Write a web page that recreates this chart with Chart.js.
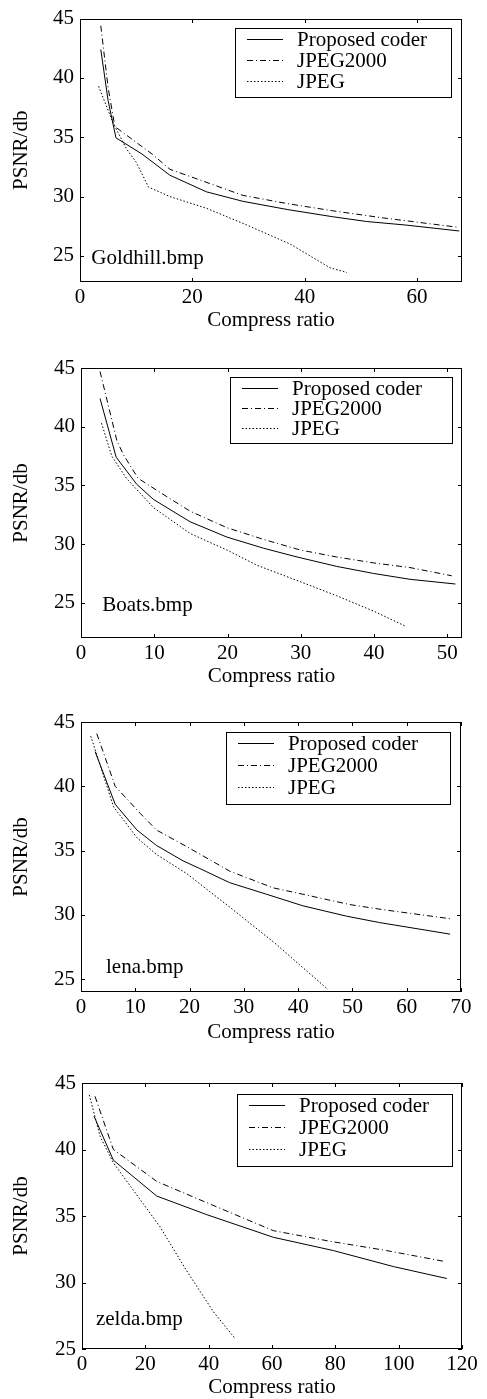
<!DOCTYPE html>
<html>
<head>
<title>PSNR vs compress ratio</title>
<script src="https://cdn.jsdelivr.net/npm/chart.js"></script>
<style>
  body { margin: 0; background: #fff; }
  .panel { position: absolute; left: 0; width: 487px; }
</style>
</head>
<body>
<div class="panel" style="top:0px;height:340px"><canvas id="c1"></canvas></div>
<div class="panel" style="top:340px;height:360px"><canvas id="c2"></canvas></div>
<div class="panel" style="top:700px;height:350px"><canvas id="c3"></canvas></div>
<div class="panel" style="top:1050px;height:349px"><canvas id="c4"></canvas></div>
<script>
const seriesNames = ['Proposed coder', 'JPEG2000', 'JPEG'];
const yTicks = [25, 30, 35, 40, 45];

// Goldhill.bmp  [compress ratio, PSNR]
const goldhillXTicks = [0, 20, 40, 60];
const goldhillProposed = [[3.7, 42.4], [5.0, 38.1], [6.4, 34.95], [11, 33.6], [16, 31.8], [22.5, 30.4], [29, 29.6], [37, 28.9], [45, 28.3], [51, 27.9], [58, 27.6], [67.5, 27.1]];
const goldhillJ2k = [[3.7, 44.4], [5.0, 39.2], [6.2, 35.9], [12.8, 33.6], [16, 32.3], [23.7, 31.0], [29, 30.1], [37, 29.4], [45, 28.8], [54, 28.2], [67.5, 27.4]];
const goldhillJpeg = [[3.3, 39.3], [5.9, 36.2], [8.3, 34.0], [10, 32.9], [12.2, 30.8], [16, 30.0], [22.6, 29.0], [29.7, 27.6], [37.4, 26.0], [44.5, 24.0], [47.5, 23.6]];

// Boats.bmp
const boatsXTicks = [0, 10, 20, 30, 40, 50];
const boatsProposed = [[2.6, 42.4], [4.8, 37.4], [7.6, 35.1], [9.9, 33.8], [14.9, 31.9], [19.9, 30.6], [24.9, 29.65], [29.5, 28.9], [34.9, 28.1], [39.9, 27.5], [44.9, 27.0], [51.1, 26.6]];
const boatsJ2k = [[2.6, 44.7], [4.9, 38.8], [5.8, 37.6], [7.8, 35.6], [10.8, 34.4], [14.9, 32.8], [19.9, 31.4], [24.9, 30.4], [29.9, 29.5], [34.9, 28.9], [39.9, 28.4], [44.9, 28.0], [50.6, 27.3]];
const boatsJpeg = [[2.8, 40.3], [4.2, 37.5], [6.2, 35.6], [9.9, 33.1], [14.9, 30.9], [19.9, 29.5], [24, 28.2], [29.9, 26.8], [34.9, 25.6], [39.9, 24.3], [44.3, 23.0]];

// lena.bmp
const lenaXTicks = [0, 10, 20, 30, 40, 50, 60, 70];
const lenaProposed = [[2.6, 42.7], [6.3, 38.6], [10.3, 36.6], [13.9, 35.4], [18.8, 34.2], [21.9, 33.6], [27.4, 32.5], [34.2, 31.6], [40.9, 30.7], [48.9, 29.9], [55, 29.4], [68, 28.5]];
const lenaJ2k = [[2.9, 44.1], [6.3, 40.0], [10.9, 37.9], [13.9, 36.6], [19.5, 35.3], [27.4, 33.4], [35.4, 32.1], [40.9, 31.6], [49.5, 30.8], [55.7, 30.4], [68, 29.7]];
const lenaJpeg = [[1.8, 43.9], [6.0, 38.4], [10.3, 36.0], [13.9, 34.7], [19.5, 33.2], [27.4, 30.6], [36, 27.7], [40.3, 26.1], [45.5, 24.2]];

// zelda.bmp
const zeldaXTicks = [0, 20, 40, 60, 80, 100, 120];
const zeldaProposed = [[3.8, 42.5], [9.9, 39.2], [23.6, 36.5], [39.4, 35.1], [60.4, 33.4], [79.4, 32.4], [98.3, 31.2], [115.2, 30.3]];
const zeldaJ2k = [[4.1, 44.0], [9.9, 40.0], [23.6, 37.6], [39.4, 36.0], [60.4, 33.9], [78.3, 33.1], [96.2, 32.4], [114.1, 31.6]];
const zeldaJpeg = [[2.3, 44.1], [5.7, 41.0], [9.9, 39.0], [24.6, 34.2], [33, 30.9], [41.5, 27.8], [48.3, 25.8]];

var FONT = 'Liberation Serif, Times New Roman, serif';
var FSIZE = 21;
var dashes = [[], [6, 3, 1, 3], [1.5, 2]];

// frame with inward ticks, boxed legend and image name
var frameLegend = {
  id: 'frameLegend',
  afterDraw: function(chart) {
    var o = chart.options.plugins.frameLegend;
    var ctx = chart.ctx, a = chart.chartArea;
    var xs = chart.scales.x, ys = chart.scales.y;
    var L = Math.round(a.left), R = Math.round(a.right), T = Math.round(a.top), B = Math.round(a.bottom);
    ctx.save();
    ctx.strokeStyle = '#000';
    ctx.lineWidth = 1;
    ctx.setLineDash([]);
    ctx.strokeRect(L + 0.5, T + 0.5, R - L - 1, B - T - 1);
    ctx.beginPath();
    o.xTicks.forEach(function(v) {
      var px = Math.round(xs.getPixelForValue(v)) + 0.5;
      ctx.moveTo(px, B); ctx.lineTo(px, B - 4);
      ctx.moveTo(px, T); ctx.lineTo(px, T + 4);
    });
    yTicks.forEach(function(v) {
      var py = Math.round(ys.getPixelForValue(v)) + 0.5;
      ctx.moveTo(L, py); ctx.lineTo(L + 4, py);
      ctx.moveTo(R, py); ctx.lineTo(R - 4, py);
    });
    ctx.stroke();

    // legend box
    var lg = o.legend;
    var x0 = R - lg.right - lg.width, y0 = T + lg.top;
    var rowH = lg.rowH;
    ctx.fillStyle = '#fff';
    ctx.fillRect(x0, y0, lg.width, rowH * 3 + 6);
    ctx.strokeRect(Math.round(x0) + 0.5, Math.round(y0) + 0.5, lg.width, rowH * 3 + 6);
    ctx.font = FSIZE + 'px ' + FONT;
    ctx.textBaseline = 'middle';
    ctx.textAlign = 'left';
    ctx.fillStyle = '#000';
    seriesNames.forEach(function(name, i) {
      var y = Math.round(y0 + 11 + i * rowH) + 0.5;
      ctx.setLineDash(dashes[i]);
      ctx.beginPath();
      ctx.moveTo(x0 + 12, y); ctx.lineTo(x0 + 48, y);
      ctx.stroke();
      ctx.setLineDash([]);
      ctx.fillText(name, x0 + 62, y + 1);
    });

    // image name inside the plot
    ctx.fillText(o.label, xs.getPixelForValue(o.labelAt[0]), ys.getPixelForValue(o.labelAt[1]));
    ctx.restore();
  }
};

function makeChart(id, p) {
  var series = [p.proposed, p.j2k, p.jpeg];
  var datasets = series.map(function(pts, i) {
    return {
      label: seriesNames[i],
      data: pts.map(function(q) { return { x: q[0], y: q[1] }; }),
      borderColor: '#000',
      borderWidth: 1,
      borderDash: dashes[i],
      pointRadius: 0,
      tension: 0,
      fill: false
    };
  });
  new Chart(document.getElementById(id), {
    type: 'line',
    data: { datasets: datasets },
    plugins: [frameLegend],
    options: {
      responsive: true,
      maintainAspectRatio: false,
      animation: false,
      devicePixelRatio: 1,
      layout: {
        padding: { left: 0, top: p.top, right: 487 - p.right, bottom: p.H - p.titleY - 12 }
      },
      plugins: {
        legend: { display: false },
        tooltip: { enabled: false },
        frameLegend: { xTicks: p.xTicks, legend: p.legend, label: p.label, labelAt: p.labelAt }
      },
      scales: {
        x: {
          type: 'linear',
          min: p.xMin, max: p.xMax,
          afterBuildTicks: function(s) { s.ticks = p.xTicks.map(function(v) { return { value: v }; }); },
          afterFit: function(s) { s.height = p.titleY + 12 - p.bottom; },
          grid: { display: false, drawTicks: false },
          border: { display: false },
          ticks: { color: '#000', padding: 3, maxRotation: 0, autoSkip: false, font: { family: FONT, size: FSIZE } },
          title: { display: true, text: 'Compress ratio', color: '#000', padding: 0, font: { family: FONT, size: FSIZE } }
        },
        y: {
          min: p.yMin, max: p.yMax,
          afterBuildTicks: function(s) { s.ticks = yTicks.map(function(v) { return { value: v }; }); },
          afterFit: function(s) { s.width = p.left; },
          grid: { display: false, drawTicks: false },
          border: { display: false },
          ticks: { color: '#000', padding: 6, autoSkip: false, font: { family: FONT, size: FSIZE } },
          title: { display: true, text: 'PSNR/db', color: '#000', padding: { top: 9, bottom: 0 }, font: { family: FONT, size: FSIZE } }
        }
      }
    }
  });
}

makeChart('c1', { H: 340, top: 13, bottom: 282, left: 80, right: 462, titleY: 321,
  xMin: 0, xMax: 68, yMin: 22.8, yMax: 45, xTicks: goldhillXTicks,
  proposed: goldhillProposed, j2k: goldhillJ2k, jpeg: goldhillJpeg,
  legend: { right: 11, top: 9, width: 216, rowH: 21 }, label: 'Goldhill.bmp', labelAt: [2.0, 24.8] });

makeChart('c2', { H: 360, top: 28, bottom: 298, left: 81, right: 462, titleY: 337,
  xMin: 0, xMax: 52, yMin: 22, yMax: 45, xTicks: boatsXTicks,
  proposed: boatsProposed, j2k: boatsJ2k, jpeg: boatsJpeg,
  legend: { right: 10, top: 9, width: 222, rowH: 20 }, label: 'Boats.bmp', labelAt: [2.9, 24.8] });

makeChart('c3', { H: 350, top: 22, bottom: 292, left: 81, right: 461, titleY: 333,
  xMin: 0, xMax: 70, yMin: 24, yMax: 45, xTicks: lenaXTicks,
  proposed: lenaProposed, j2k: lenaJ2k, jpeg: lenaJpeg,
  legend: { right: 11, top: 10, width: 224, rowH: 22 }, label: 'lena.bmp', labelAt: [4.6, 25.9] });

makeChart('c4', { H: 349, top: 33, bottom: 299, left: 82, right: 462, titleY: 338,
  xMin: 0, xMax: 120, yMin: 25, yMax: 45, xTicks: zeldaXTicks,
  proposed: zeldaProposed, j2k: zeldaJ2k, jpeg: zeldaJpeg,
  legend: { right: 10, top: 11, width: 215, rowH: 22 }, label: 'zelda.bmp', labelAt: [4.4, 27.2] });
</script>
</body>
</html>
